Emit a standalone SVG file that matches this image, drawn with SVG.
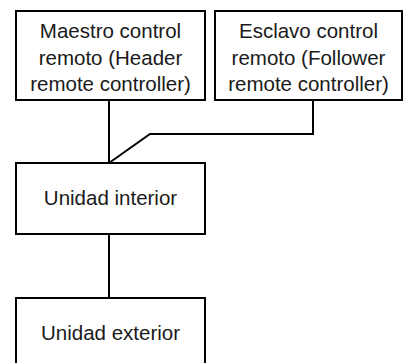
<svg xmlns="http://www.w3.org/2000/svg" width="404" height="363" viewBox="0 0 404 363">
<style>
.box{fill:#fff;stroke:#000;stroke-width:2}
.lbl{font-family:"Liberation Sans",Arial,sans-serif;font-size:20.5px;fill:#1a1a1a;text-anchor:middle}
.wire{fill:none;stroke:#000;stroke-width:2}
</style>
<rect width="404" height="363" fill="#fff"/>
<g id="connectors">
<path class="wire" d="M109,100 V163"/>
<path class="wire" d="M313,100 V134 H150 L109,163"/>
<path class="wire" d="M109,234 V298"/>
</g>
<g id="maestro">
<rect class="box" x="16" y="11" width="189" height="89"/>
<text class="lbl" x="110.5" y="38">Maestro control</text>
<text class="lbl" x="110.5" y="64.5">remoto (Header</text>
<text class="lbl" x="110.5" y="91">remote controller)</text>
</g>
<g id="esclavo">
<rect class="box" x="215" y="11" width="187" height="89"/>
<text class="lbl" x="308.5" y="38">Esclavo control</text>
<text class="lbl" x="308.5" y="64.5">remoto (Follower</text>
<text class="lbl" x="308.5" y="91">remote controller)</text>
</g>
<g id="interior">
<rect class="box" x="16" y="163" width="189" height="71"/>
<text class="lbl" x="110.5" y="205">Unidad interior</text>
</g>
<g id="exterior">
<rect class="box" x="16" y="298" width="189" height="70"/>
<text class="lbl" x="110.5" y="340">Unidad exterior</text>
</g>
</svg>
